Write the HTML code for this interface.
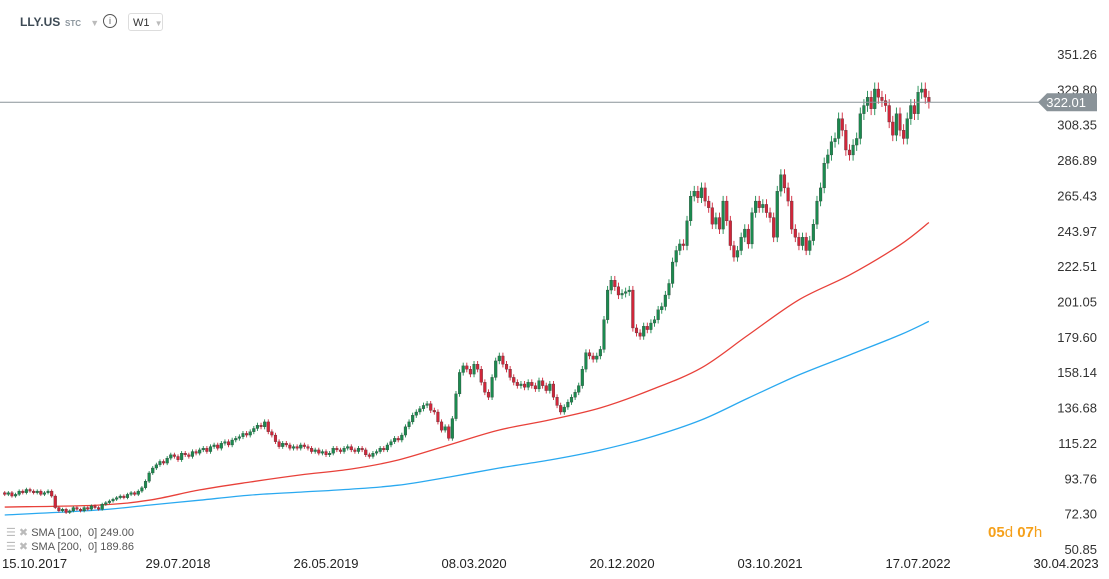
<!DOCTYPE html>
<html><head><meta charset="utf-8">
<style>
body{margin:0;background:#fff;font-family:"Liberation Sans",sans-serif;}
#wrap{position:relative;width:1109px;height:579px;overflow:hidden;}
svg text{font-family:"Liberation Sans",sans-serif;}
</style></head>
<body>
<div id="wrap">
<svg id="c" width="1109" height="579"></svg>
</div>
<script>
// ---- data ----
const startWeek = -7; // weeks relative to 15.10.2017
const closes = [
84,85,83,84,86,85,87,86,85,86,84,85,86,83,
76,74,75,73,74,76,75,74,76,75,77,76,75,
78,79,80,81,82,83,82,84,85,84,86,88,92,97,
100,102,104,103,106,108,107,105,109,108,107,110,109,111,
112,110,113,114,112,115,116,114,117,118,119,121,120,122,
124,126,125,128,122,120,116,113,115,114,112,113,112,114,
113,112,110,111,109,110,108,109,112,111,110,112,113,111,
110,112,111,108,107,109,110,112,111,114,116,118,117,
120,125,128,132,134,136,138,139,135,134,128,123,125,118,
130,145,158,162,160,157,163,160,152,146,143,155,165,168,
163,160,155,152,150,151,149,152,150,148,153,150,147,151,
143,138,134,137,140,143,146,150,160,170,168,166,168,172,
190,208,214,210,205,206,207,208,185,182,180,186,184,188,
190,196,198,205,212,225,232,236,235,250,265,268,264,270,
262,258,248,252,245,262,250,235,228,232,240,245,236,
255,262,258,260,255,252,240,268,278,270,262,245,240,235,
240,232,238,248,262,270,285,290,298,300,312,305,293,290,
296,300,315,320,325,318,330,325,323,320,310,302,315,305,
300,312,320,315,328,330,325,322];
const smaWeeks = [-7,19,33,47,61,75,89,102,116,130,144,158,172,186,199,213,227,241,249];
const sma100 = [76.3,77.5,80.5,86.7,91.5,95.8,99.4,104.9,114.0,123.1,129.2,136.5,147.4,160.8,180.8,202.1,217.1,235.4,249];
const sma200 = [71.5,74.5,77.5,80.5,83.6,85.4,87.2,89.6,94.5,100,104.9,110.9,118.8,129.2,142.5,156.5,168.6,180.8,189];
const yTicks = [351.26,329.80,308.35,286.89,265.43,243.97,222.51,201.05,179.60,158.14,136.68,115.22,93.76,72.30,50.85];
const dateLabels = ["15.10.2017","29.07.2018","26.05.2019","08.03.2020","20.12.2020","03.10.2021","17.07.2022","30.04.2023"];
const dateWeeks = [0,41,82,123,164,205,246,287];
const lastPrice = 322.01;

// ---- axes ----
const NS="http://www.w3.org/2000/svg";
const svg=document.getElementById('c');
const Y=v=>54+(351.26-v)*1.6478;
const X=w=>30+w*3.61;
function el(t,a,p){const e=document.createElementNS(NS,t);for(const k in a)e.setAttribute(k,a[k]);(p||svg).appendChild(e);return e;}

yTicks.forEach(v=>{
  const t=el('text',{x:1097,y:Y(v)+5,'text-anchor':'end','font-size':13,fill:'#333'});
  t.textContent=v.toFixed(2);
  
  
});
dateLabels.forEach((d,i)=>{
  const w=dateWeeks[i];
  const t=el('text',{x:i==0?2:X(w),y:568,'text-anchor':i==0?'start':'middle','font-size':13,fill:'#222'});
  t.textContent=d;
  
  
});

// SMA lines (smoothed through points)
function line(ws,vs,col,name){
  const pts=ws.map((w,i)=>[X(w),Y(vs[i])]);
  let d='M'+pts[0][0]+','+pts[0][1];
  for(let i=1;i<pts.length;i++){
    const p0=pts[i-2]||pts[i-1],p1=pts[i-1],p2=pts[i],p3=pts[i+1]||p2;
    const c1=[p1[0]+(p2[0]-p0[0])/6,p1[1]+(p2[1]-p0[1])/6];
    const c2=[p2[0]-(p3[0]-p1[0])/6,p2[1]-(p3[1]-p1[1])/6];
    d+=` C${c1[0].toFixed(1)},${c1[1].toFixed(1)} ${c2[0].toFixed(1)},${c2[1].toFixed(1)} ${p2[0].toFixed(1)},${p2[1].toFixed(1)}`;
  }
  const l=el('path',{d:d,fill:'none',stroke:col,'stroke-width':1.3});
  
  
}
line(smaWeeks,sma200,'#2aa9f0','sma-200-line');
line(smaWeeks,sma100,'#e8413a','sma-100-line');

// candles
const g=el('g',{});


let prev=closes[0]+1;
closes.forEach((c,i)=>{
  const o=prev; prev=c;
  const x=X(startWeek+i);
  const up=c>=o;
  const col=up?'#1b8a4f':'#d0263a';
  const hi=Math.max(o,c)*1.012, lo=Math.min(o,c)*0.988;
  const w=el('line',{x1:x,x2:x,y1:Y(hi),y2:Y(lo),stroke:col,'stroke-width':0.9},g);
  
  
  const top=Y(Math.max(o,c)),bot=Y(Math.min(o,c));
  const r=el('rect',{x:x-1.4,y:top,width:2.8,height:Math.max(1,bot-top),fill:col,stroke:'#333','stroke-width':0.3},g);
  
  
});

const pl=el('line',{x1:0,x2:1040,y1:Y(lastPrice),y2:Y(lastPrice),stroke:'#8a9399','stroke-width':1});


const py=Y(lastPrice);
const tag=el('polygon',{points:`1038,${py} 1047,${py-9} 1097,${py-9} 1097,${py+9} 1047,${py+9}`,fill:'#8a9399'});


const tt=el('text',{x:1086,y:py+5,'text-anchor':'end','font-size':13,fill:'#fff'});
tt.textContent=lastPrice.toFixed(2);


</script>

<div style="position:absolute;left:20px;top:15px;font-size:12px;font-weight:bold;color:#3d4a55;">LLY.US</div>
<div style="position:absolute;left:65px;top:18px;font-size:8px;font-weight:bold;color:#8a949c;white-space:nowrap;">STC <span style="color:#bbb;margin-left:7px;font-size:9px">▼</span></div>
<div style="position:absolute;left:103px;top:14px;width:12px;height:12px;border:1px solid #555;border-radius:50%;font-size:9px;text-align:center;line-height:12px;color:#555;">i</div>
<div style="position:absolute;left:128px;top:13px;width:35px;height:18px;border:1px solid #ddd;border-radius:3px;font-size:11px;color:#333;line-height:18px;padding-left:4px;box-sizing:border-box;white-space:nowrap;">W1 <span style="color:#bbb;font-size:8px;margin-left:2px">▼</span></div>

<div style="position:absolute;left:6px;top:526px;font-size:11px;color:#555;"><span style="color:#bbb">☰ ✖</span> SMA [100,&nbsp; 0] 249.00</div>
<div style="position:absolute;left:6px;top:540px;font-size:11px;color:#555;"><span style="color:#bbb">☰ ✖</span> SMA [200,&nbsp; 0] 189.86</div>

<div style="position:absolute;left:988px;top:524px;font-size:15px;font-weight:bold;color:#f5a01a;">05<span style="font-weight:normal">d</span> 07<span style="font-weight:normal">h</span></div>
</body></html>
